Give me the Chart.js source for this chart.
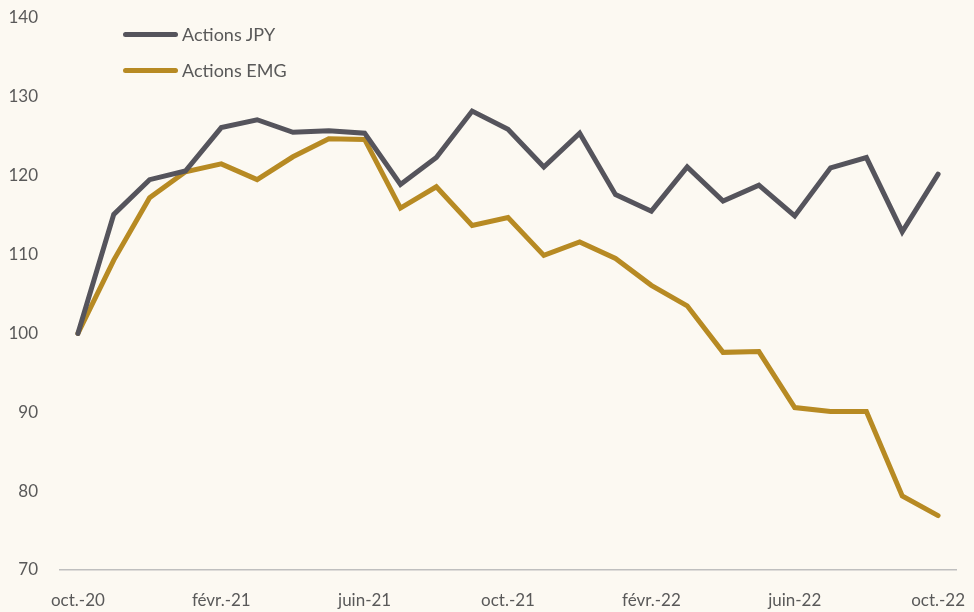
<!DOCTYPE html>
<html>
<head>
<meta charset="utf-8">
<script src="https://cdn.jsdelivr.net/npm/chart.js@4/dist/chart.umd.min.js"></script>
<style>
  html, body { margin: 0; padding: 0; background: #fcf9f2; }
  #wrap { position: relative; width: 974px; height: 612px; }
  #legend { position: absolute; left: 123px; top: 16px; font-family: Lato, "Open Sans", sans-serif; font-size: 18px; color: #595959; }
  .item { display: flex; align-items: center; height: 36px; }
  .swatch { width: 55px; height: 5px; border-radius: 3px; margin-right: 4px; }
</style>
</head>
<body>
<div id="wrap">
  <canvas id="chart" width="974" height="612"></canvas>
  <div id="legend"></div>
</div>
<script>
const labels = [
    "oct.-20", "nov.-20", "déc.-20", "janv.-21", "févr.-21", "mars-21", "avr.-21", "mai-21", "juin-21",
    "juil.-21", "août-21", "sept.-21", "oct.-21", "nov.-21", "déc.-21", "janv.-22", "févr.-22", "mars-22",
    "avr.-22", "mai-22", "juin-22", "juil.-22", "août-22", "sept.-22", "oct.-22"
];
const jpy = [100, 115.1, 119.5, 120.6, 126.1, 127.1, 125.5, 125.7, 125.4, 118.9, 122.3, 128.2, 125.9,
    121.1, 125.4, 117.6, 115.5, 121.1, 116.8, 118.8, 114.9, 121.0, 122.3, 112.9, 120.2];
const emg = [100, 109.3, 117.2, 120.5, 121.5, 119.5, 122.4, 124.7, 124.6, 115.9, 118.6, 113.7, 114.7,
    109.9, 111.6, 109.5, 106.1, 103.5, 97.6, 97.7, 90.6, 90.1, 90.1, 79.4, 76.9];
const seriesNames = ["Actions JPY", "Actions EMG"];
const colors = ["#55545c", "#b78a23"];

const font = { family: "Lato, 'Open Sans', sans-serif", size: 17 };

const chart = new Chart(document.getElementById("chart"), {
    type: "line",
    data: {
        labels,
        datasets: [jpy, emg].map((d, i) => ({
            label: seriesNames[i],
            data: d,
            borderColor: colors[i],
            backgroundColor: colors[i],
            borderWidth: 5,
            pointRadius: 0,
            tension: 0,
            borderCapStyle: "round",
            borderJoinStyle: "miter"
        }))
    },
    options: {
        responsive: false,
        animation: false,
        layout: { padding: { left: 0, right: 18, top: 0, bottom: 0 } },
        plugins: { legend: { display: false }, tooltip: { enabled: false } },
        scales: {
            x: {
                offset: true,
                grid: { display: false, drawTicks: false },
                border: { display: true, color: "#bfbfbf", width: 1.5 },
                afterFit: s => { s.height = 42; s.paddingLeft = 0; s.paddingRight = 0; },
                ticks: {
                    autoSkip: false, maxRotation: 0, color: "#595959", font, padding: 20,
                    callback: (v, i) => i % 4 === 0 ? labels[i] : ""
                }
            },
            y: {
                min: 70, max: 140,
                grid: { display: false, drawTicks: false },
                border: { display: false },
                afterFit: s => { s.width = 60; s.paddingTop = 18; s.paddingBottom = 0; },
                ticks: { stepSize: 10, color: "#595959", font, padding: 22 }
            }
        }
    }
});

const legend = document.getElementById("legend");
chart.data.datasets.forEach(ds => {
    const row = document.createElement("div");
    row.className = "item";
    row.innerHTML = `<span class="swatch" style="background:${ds.borderColor}"></span>${ds.label}`;
    legend.appendChild(row);
});
</script>
</body>
</html>
